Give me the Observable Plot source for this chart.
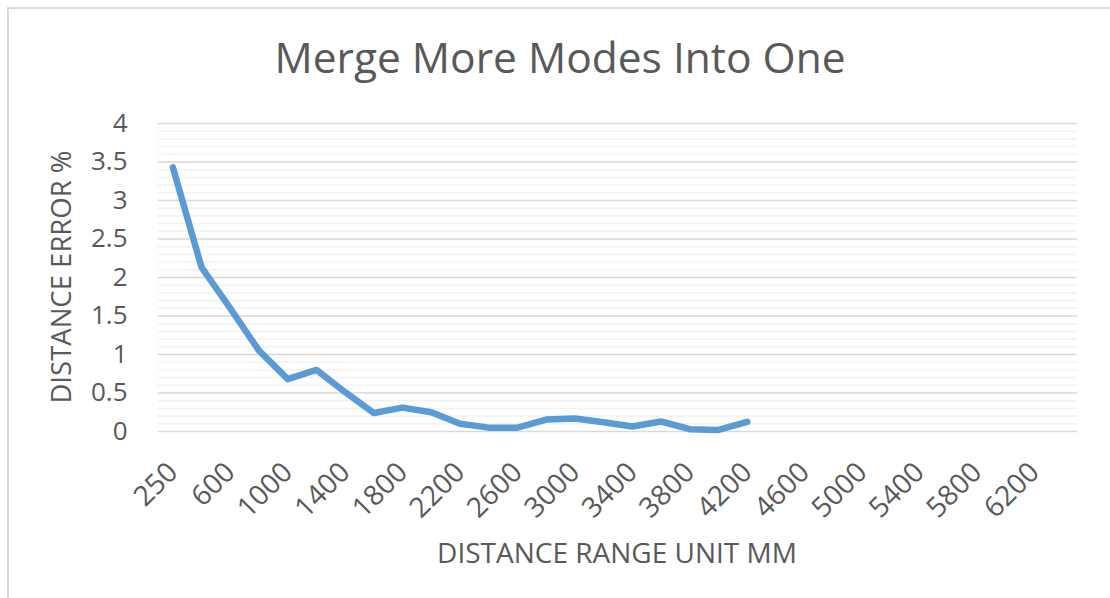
<!DOCTYPE html>
<html>
<head>
<meta charset="utf-8">
<script src="https://cdn.jsdelivr.net/npm/d3@7"></script>
<script src="https://cdn.jsdelivr.net/npm/@observablehq/plot@0.6"></script>
<style>
  html, body { margin: 0; padding: 0; background: #fff; }
  #wrap { position: relative; width: 1110px; height: 598px; overflow: hidden; font-family: "Open Sans", sans-serif; color: #595959; }
  #frame { position: absolute; left: 7px; top: 7px; width: 1200px; height: 700px; border-left: 2px solid #d9d9d9; border-top: 2px solid #d9d9d9; }
  #title { position: absolute; left: 0; width: 1120px; top: 36px; text-align: center; font-size: 42.5px; line-height: 1; white-space: nowrap; }
  #xtitle { position: absolute; left: 0; width: 1234px; top: 538px; text-align: center; font-size: 28px; line-height: 1; white-space: nowrap; }
  #ytitle { position: absolute; left: 61px; top: 277px; transform: translate(-50%, -50%) rotate(-90deg); font-size: 27.5px; line-height: 1; white-space: nowrap; }
  #chart { position: absolute; left: 0; top: 0; }
</style>
</head>
<body>
<div id="wrap">
  <div id="frame"></div>
  <div id="chart"></div>
  <div id="title">Merge More Modes Into One</div>
  <div id="xtitle">DISTANCE RANGE UNIT MM</div>
  <div id="ytitle">DISTANCE ERROR %</div>
</div>
<script>
const categories = [250, 400, 600, 800, 1000, 1200, 1400, 1600, 1800, 2000, 2200, 2400, 2600, 2800, 3000, 3200, 3400, 3600, 3800, 4000, 4200, 4400, 4600, 4800, 5000, 5200, 5400, 5600, 5800, 6000, 6200, 6400];
const errorValues = [3.43, 2.13, 1.60, 1.05, 0.68, 0.80, 0.51, 0.24, 0.31, 0.25, 0.10, 0.05, 0.05, 0.155, 0.17, 0.12, 0.065, 0.13, 0.03, 0.02, 0.125];
const xTickLabels = [250, 600, 1000, 1400, 1800, 2200, 2600, 3000, 3400, 3800, 4200, 4600, 5000, 5400, 5800, 6200];
const yMajorTicks = [0, 0.5, 1, 1.5, 2, 2.5, 3, 3.5, 4];
const yMinorTicks = d3.range(0, 41).map(i => i / 10).filter(v => !yMajorTicks.some(m => Math.abs(m - v) < 1e-9));

const rows = errorValues.map((v, i) => ({cat: String(categories[i]), value: v}));

const chart = Plot.plot({
  width: 1110,
  height: 598,
  marginLeft: 158,
  marginRight: 33,
  marginTop: 123,
  marginBottom: 167,
  style: {fontFamily: "Open Sans, sans-serif", color: "#595959", background: "transparent", overflow: "visible"},
  x: {type: "point", domain: categories.map(String), padding: 0.5, round: false},
  y: {domain: [0, 4]},
  marks: [
    Plot.ruleY(yMinorTicks, {stroke: "#f2f2f2", strokeWidth: 1.5}),
    Plot.ruleY(yMajorTicks, {stroke: "#d9d9d9", strokeWidth: 1.5}),
    Plot.axisY({ticks: yMajorTicks, tickFormat: d => String(d), tickSize: 0, tickPadding: 31, fontSize: 26, label: null, fill: "#595959"}),
    Plot.axisX({ticks: xTickLabels.map(String), tickSize: 0, tickPadding: 36, tickRotate: -45, fontSize: 28, label: null, fill: "#595959"}),
    Plot.line(rows, {x: "cat", y: "value", stroke: "#5b9bd5", strokeWidth: 6.5, strokeLinejoin: "round", strokeLinecap: "round"})
  ]
});
document.getElementById("chart").appendChild(chart);
</script>
</body>
</html>
